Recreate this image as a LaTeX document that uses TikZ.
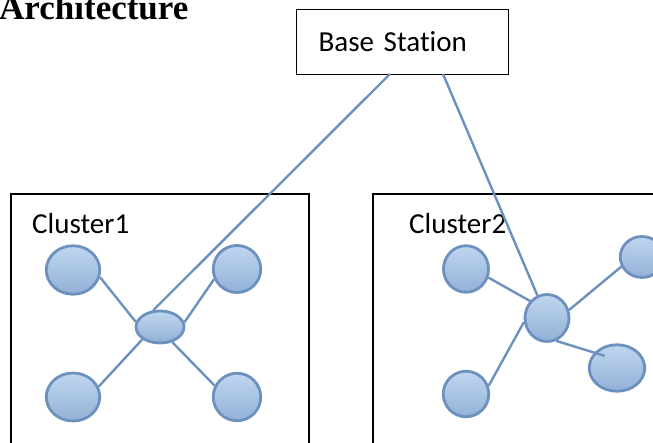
\documentclass[tikz,border=0pt]{standalone}
\usepackage{fontspec}
\setmainfont{Carlito}[Ligatures=NoCommon]
\newfontfamily\titlefont{Liberation Serif}
\usetikzlibrary{shapes.geometric}

\definecolor{nodetop}{RGB}{192,214,239}
\definecolor{nodebottom}{RGB}{146,177,215}
\definecolor{nodeedge}{RGB}{108,145,190}

\tikzset{
    sensor/.style={ellipse, draw=nodeedge, line width=2.8pt, top color=nodetop, bottom color=nodebottom, inner sep=0pt},
    link/.style={draw=nodeedge, line width=2.4pt},
    frame/.style={draw=black, line width=1.2pt},
    label text/.style={anchor=base west, inner sep=0pt, font=\fontsize{29}{34}\selectfont}
}

\begin{document}
\begin{tikzpicture}[x=1pt, y=-1pt]
            \useasboundingbox (0,0) rectangle (653,443);

            \node (title) at (-1,20) [anchor=base west, inner sep=0pt] {\titlefont\bfseries\fontsize{35}{40}\selectfont Architecture};

            \node (bs) at (296,9) [frame, anchor=north west, minimum height=65, text width=168, inner xsep=22, align=left, font=\fontsize{29}{34}\selectfont] {Base Station};

            % clusters
            \draw[frame] (11,460) |- (309,194) -- (309,460);
            \node (cl1) at (32,234) [label text] {Cluster1};
            \draw[frame] (373,460) |- (670,194);
            \node (cl2) at (409,234) [label text] {Cluster2};

            \node (c1) at (160,327) [sensor, minimum width=48, minimum height=32] {};
            \node (n11) at (73,270) [sensor, minimum width=53.5, minimum height=48.5] {};
            \node (n12) at (237,269) [sensor, minimum width=47.5, minimum height=47] {};
            \node (n13) at (73,397) [sensor, minimum width=53.5, minimum height=48] {};
            \node (n14) at (237,397) [sensor, minimum width=47.5, minimum height=47.5] {};

            \node (c2) at (547,318) [sensor, minimum width=44, minimum height=47] {};
            \node (n21) at (466,269) [sensor, minimum width=45, minimum height=46.5] {};
            \node (n22) at (642,257) [sensor, minimum width=43.5, minimum height=41] {};
            \node (n23) at (617,368) [sensor, minimum width=55.5, minimum height=46.5] {};
            \node (n24) at (466,394) [sensor, minimum width=45.5, minimum height=45.5] {};

            \draw[link] (n11.-15) -- (c1.168);
            \draw[link] (n12.204) -- (c1.11);
            \draw[link] (n13.22) -- (c1.215);
            \draw[link] (n14.153) -- (c1.-51);

            \draw[link] (n21.-21) -- (c2.135);
            \draw[link] (n22.205) -- (c2.20);
            \draw[link, shorten >=-11pt] (c2.-68) -- (n23.146);
            \draw[link] (n24.20) -- (c2.190);

            % links to base station
            \coordinate (bsl) at (390,74);
            \coordinate (bsr) at (443,74);
            \draw[link] (bsl) -- (c1.112);
            \draw[link] (bsr) -- (c2);
        \end{tikzpicture}
\end{document}
